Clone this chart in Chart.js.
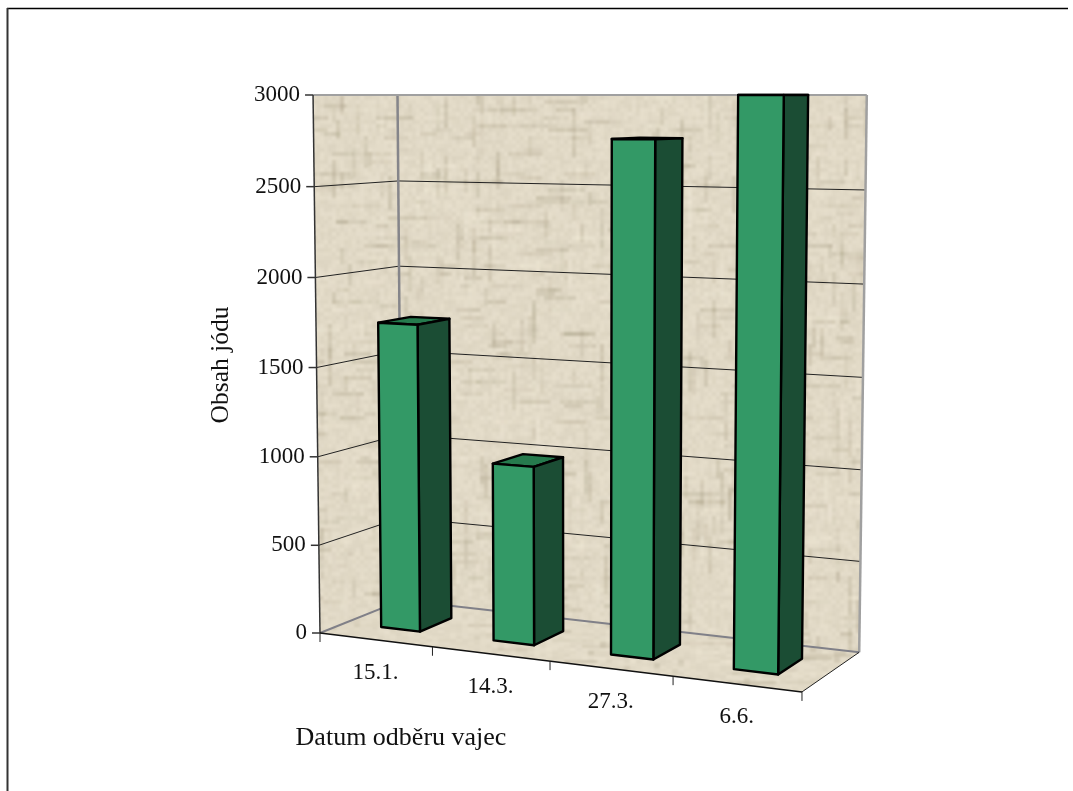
<!DOCTYPE html>
<html>

<head>
    <title>Obsah jódu</title>
    <script src="https://cdnjs.cloudflare.com/ajax/libs/Chart.js/4.4.1/chart.umd.js"></script>
    <style>
        body { margin: 0; background: #fff; }
        canvas { display: block; }
    </style>
</head>

<body>
    <canvas id="iodineChart" width="1073" height="791"></canvas>

    <script>
        var categories = ['15.1.', '14.3.', '27.3.', '6.6.'];
        var iodineValues = [1735, 990, 2770, 3000];
        var valueTicks = [0, 500, 1000, 1500, 2000, 2500, 3000];
        var xTitle = 'Datum odběru vajec';
        var yTitle = 'Obsah jódu';

        var TICK_FONT = '23px "Liberation Serif"';
        var TITLE_FONT = '26px "Liberation Serif"';
        var BAR_FRONT = '#339966';
        var BAR_SIDE = '#1b4d34';
        var BAR_TOP = '#267a4d';

        // Perspective of the 3D box, u = along categories, v = value, d = depth (all 0..1).
        // The top of the box is seen edge-on, so v = 1 always lands on the same line.
        function project(u, v, d) {
            var w = 1 - 0.087 * u - 0.026 * v + 0.065 * d;
            return {
                x: (320 + 412.2 * u - 15.1 * v + 108.1 * d) / w,
                y: 95 + (1 - v) * (538 + 7 * u) / w
            };
        }

        function poly(ctx, pts) {
            ctx.beginPath();
            pts.forEach(function (p, i) {
                if (i === 0) ctx.moveTo(p.x, p.y);
                else ctx.lineTo(p.x, p.y);
            });
            ctx.closePath();
        }

        function line(ctx, a, b, color, width) {
            ctx.strokeStyle = color;
            ctx.lineWidth = width;
            ctx.beginPath();
            ctx.moveTo(a.x, a.y);
            ctx.lineTo(b.x, b.y);
            ctx.stroke();
        }

        // Linen-like wall texture: soft blocks plus woven streaks, as big as the page so it has no seams
        function makeTexture(ctx, cellW, cellH, seed, streakW, streakH) {
            var W = 1073, H = 791;
            var tile = document.createElement('canvas');
            tile.width = W;
            tile.height = H;
            var t = tile.getContext('2d');
            function next() {
                seed = (seed * 1103515245 + 12345) & 0x7fffffff;
                return seed / 0x7fffffff;
            }
            var i, j;
            for (i = 0; i * cellW < W; i++) {
                for (j = 0; j * cellH < H; j++) {
                    var s = (next() - 0.5) * 10;
                    t.fillStyle = 'rgb(' + Math.round(225 + s) + ',' + Math.round(217 + s) + ',' + Math.round(198 + s * 1.1) + ')';
                    t.fillRect(i * cellW, j * cellH, cellW, cellH);
                }
            }
            for (i = 0; i < 3000; i++) {
                var x = Math.floor(next() * W / cellW) * cellW;
                var y = Math.floor(next() * H / cellH) * cellH;
                var dark = next() < 0.65;
                var len = 10 + next() * 30;
                var across = next() < 0.5;
                t.fillStyle = dark ? 'rgba(150,140,112,' + (0.06 + next() * 0.16) + ')' : 'rgba(243,236,218,' + (0.08 + next() * 0.22) + ')';
                if (across) t.fillRect(x, y, len * streakW, cellH);
                else t.fillRect(x, y, cellW, len * streakH);
            }
            var soft = document.createElement('canvas');
            soft.width = W;
            soft.height = H;
            var c = soft.getContext('2d');
            c.fillStyle = '#e0d8c4';
            c.fillRect(0, 0, W, H);
            c.filter = 'blur(1.2px)';
            c.drawImage(tile, 0, 0);
            return ctx.createPattern(soft, 'no-repeat');
        }

        var box3d = {
            id: 'box3d',
            beforeDatasetsDraw: function (chart) {
                var ctx = chart.ctx, yScale = chart.scales.y, area = chart.chartArea;
                var vOf = function (val) { return (area.bottom - yScale.getPixelForValue(val)) / area.height; };

                ctx.save();
                // outer frame
                line(ctx, { x: 7, y: 8.5 }, { x: 1068, y: 8.5 }, '#000', 1.7);
                line(ctx, { x: 7.5, y: 8 }, { x: 7.5, y: 791 }, '#333', 2);

                // walls and floor
                ctx.fillStyle = makeTexture(ctx, 4, 4, 12345, 1, 1);
                poly(ctx, [project(0, 1, 0), project(0, 1, 1), project(0, 0, 1), project(0, 0, 0)]);
                ctx.fill();
                poly(ctx, [project(0, 1, 1), project(1, 1, 1), project(1, 0, 1), project(0, 0, 1)]);
                ctx.fill();
                ctx.fillStyle = makeTexture(ctx, 6, 3, 777, 1.5, 0.3);
                poly(ctx, [project(0, 0, 0), project(0, 0, 1), project(1, 0, 1), project(1, 0, 0)]);
                ctx.fill();

                // gridlines from the value axis
                yScale.ticks.forEach(function (tick) {
                    var v = vOf(tick.value);
                    if (v > 0 && v < 1) {
                        line(ctx, project(0, v, 0), project(0, v, 1), '#222', 1);
                        line(ctx, project(0, v, 1), project(1, v, 1), '#222', 1);
                    }
                });

                // box edges
                line(ctx, project(0, 1, 1), project(0, 0, 1), '#85858a', 2.5);
                line(ctx, project(0, 1, 0), project(1, 1, 1), '#a0a0a0', 2);
                line(ctx, project(1, 1, 1), project(1, 0, 1), '#a0a0a0', 2.5);
                line(ctx, project(0, 0, 1), project(0, 0, 0), '#808088', 2);
                line(ctx, project(0, 0, 1), project(1, 0, 1), '#808088', 2);
                line(ctx, project(0, 1, 0), project(0, 0, 0), '#333', 1.5);
                line(ctx, project(0, 0, 0), project(1, 0, 0), '#111', 1.5);
                line(ctx, project(1, 0, 0), project(1, 0, 1), '#222', 1);

                // ticks and labels
                ctx.font = TICK_FONT;
                ctx.fillStyle = '#111';
                ctx.textBaseline = 'middle';
                ctx.textAlign = 'right';
                yScale.ticks.forEach(function (tick) {
                    var p = project(0, vOf(tick.value), 0);
                    line(ctx, { x: p.x - 8, y: p.y }, p, '#333', 1.5);
                    ctx.fillText(tick.label, p.x - 13, p.y);
                });
                ctx.textAlign = 'center';
                chart.scales.x.ticks.forEach(function (tick, i) {
                    var u = (chart.scales.x.getPixelForTick(i) - area.left) / area.width;
                    var p = project(u, 0, 0);
                    ctx.fillText(tick.label, p.x, p.y + 33);
                });
                for (var k = 0; k <= categories.length; k++) {
                    var q = project(k / categories.length, 0, 0);
                    line(ctx, q, { x: q.x, y: q.y + 9 }, '#222', 1);
                }
                ctx.font = TITLE_FONT;
                ctx.fillText(xTitle, 401, 738);
                ctx.translate(221, 365);
                ctx.rotate(-Math.PI / 2);
                ctx.font = '25.5px "Liberation Serif"';
                ctx.fillText(yTitle, 0, 0);
                ctx.restore();
            },
            afterDatasetsDraw: function (chart) {
                var ctx = chart.ctx, area = chart.chartArea;
                var front = 0.3, back = 0.7;
                ctx.save();
                ctx.lineJoin = 'round';
                chart.getDatasetMeta(0).data.forEach(function (bar) {
                    var u0 = (bar.x - bar.width / 2 - area.left) / area.width;
                    var u1 = (bar.x + bar.width / 2 - area.left) / area.width;
                    var v = (area.bottom - bar.y) / area.height;
                    var faces = [
                        [BAR_TOP, [project(u0, v, front), project(u1, v, front), project(u1, v, back), project(u0, v, back)]],
                        [BAR_SIDE, [project(u1, 0, front), project(u1, v, front), project(u1, v, back), project(u1, 0, back)]],
                        [BAR_FRONT, [project(u0, 0, front), project(u1, 0, front), project(u1, v, front), project(u0, v, front)]]
                    ];
                    faces.forEach(function (f) {
                        poly(ctx, f[1]);
                        ctx.fillStyle = f[0];
                        ctx.fill();
                        ctx.strokeStyle = '#000';
                        ctx.lineWidth = 2.4;
                        ctx.stroke();
                    });
                });
                ctx.restore();
            }
        };

        var ctx = document.getElementById('iodineChart').getContext('2d');
        var chart = new Chart(ctx, {
            type: 'bar',
            data: {
                labels: categories,
                datasets: [{
                    label: yTitle,
                    data: iodineValues,
                    backgroundColor: 'transparent',
                    borderWidth: 0,
                    categoryPercentage: 1,
                    barPercentage: 0.35
                }]
            },
            options: {
                responsive: false,
                animation: false,
                plugins: { legend: { display: false }, tooltip: { enabled: false } },
                scales: {
                    x: { display: false },
                    y: {
                        display: false,
                        min: 0,
                        max: 3000,
                        afterBuildTicks: function (scale) {
                            scale.ticks = valueTicks.map(function (v) { return { value: v }; });
                        },
                        ticks: {
                            callback: function (value) { return String(value); }
                        }
                    }
                }
            },
            plugins: [box3d]
        });
    </script>
</body>

</html>
